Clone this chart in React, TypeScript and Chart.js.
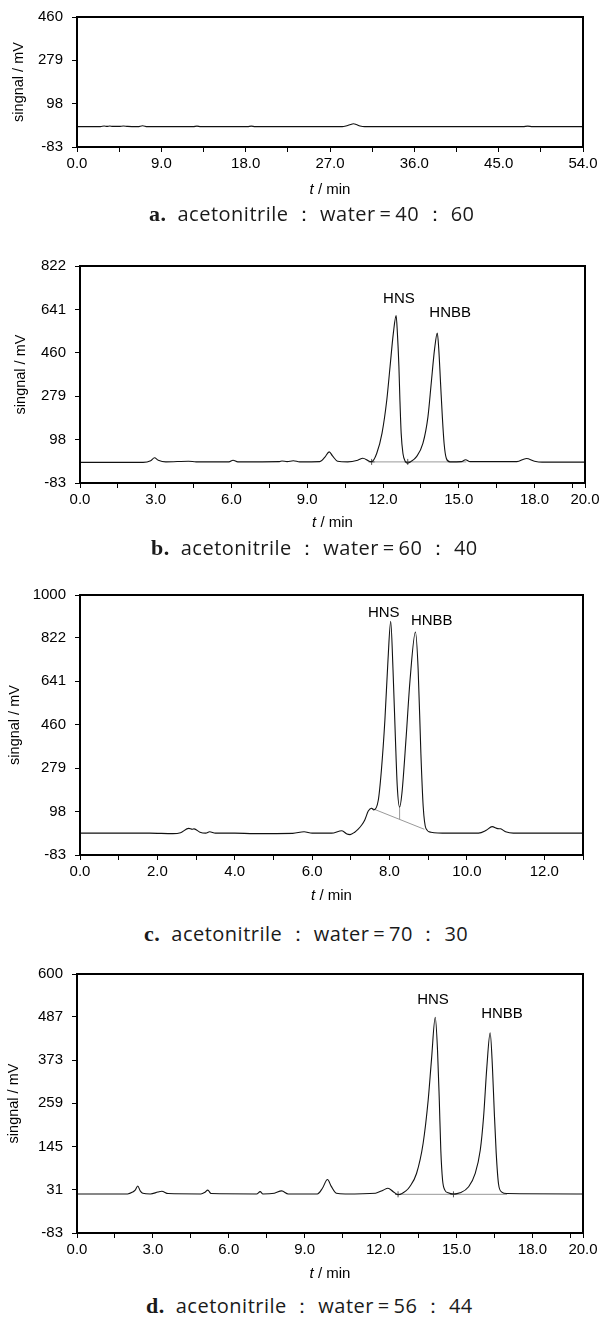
import React, { useEffect, useRef } from "react";
import { Chart, registerables } from "chart.js";

Chart.register(...registerables);

const FONT = "'Liberation Sans', Arial, sans-serif";
const CAPTION_FONT = "'Open Sans', 'Noto Sans', sans-serif";

// ---------------- Panel a : acetonitrile : water = 40 : 60 ----------------
const aTime = [0, 2.5, 2.9, 3.2, 3.5, 3.8, 4.5, 4.95, 5.4, 6.5, 7.0, 7.5, 10, 12.4, 12.8, 13.2, 16, 18.2, 18.6, 19.0, 24, 28.3, 28.8, 29.2, 29.5, 29.8, 30.2, 30.7, 35, 40, 47.6, 48.1, 48.6, 54];
const aSignal = [2, 2, 5, 3, 5, 3, 3, 5, 3, 2, 6, 2, 2, 2, 4, 2, 2, 2, 4, 2, 2, 2, 6, 11, 14, 11, 5, 2, 2, 2, 2, 4, 2, 2];
const aYTicks = [-83, 98, 279, 460];
const aXTicks = [0, 4.5, 9, 13.5, 18, 22.5, 27, 31.5, 36, 40.5, 45, 49.5, 54];
const aXLabeled = [0, 9, 18, 27, 36, 45, 54];
const aPeakNames: string[] = [];
const aPeakTime: number[] = [];
const aPeakSignal: number[] = [];

// ---------------- Panel b : acetonitrile : water = 60 : 40 ----------------
const bTime = [0, 2.5, 2.8, 2.95, 3.1, 3.4, 4.3, 4.6, 5.9, 6.06, 6.25, 7.9, 8.0, 8.2, 8.45, 8.7, 9.5, 9.7, 9.87, 10.0, 10.2, 10.6, 11.0, 11.2, 11.45, 11.55, 11.75, 11.96, 12.15, 12.28, 12.41, 12.52, 12.57, 12.63, 12.67, 12.72, 12.79, 12.88, 12.98, 13.1, 13.32, 13.58, 13.78, 13.91, 14.04, 14.15, 14.21, 14.28, 14.35, 14.42, 14.51, 14.65, 15.1, 15.27, 15.45, 17.3, 17.68, 18.0, 18.3, 20];
const bSignal = [3, 3, 10, 22, 12, 5, 8, 5, 5, 12, 5, 6, 9, 6, 10, 5, 6, 25, 47, 30, 8, 5, 12, 20, 8, 6, 40, 124, 263, 403, 542, 615, 542, 403, 263, 124, 40, 8, 0, 6, 26, 82, 193, 333, 473, 542, 473, 333, 193, 82, 19, 5, 6, 14, 6, 6, 19, 8, 4, 4];
const bBaseTime = [11.55, 12.98, 15.3];
const bBaseSignal = [5, 5, 5];
const bBaseMarks = [3, 3, 0];
const bYTicks = [-83, 98, 279, 460, 641, 822];
const bXTicks = [0, 1.5, 3, 4.5, 6, 7.5, 9, 10.5, 12, 13.5, 15, 16.5, 18, 19.5, 20];
const bXLabeled = [0, 3, 6, 9, 12, 15, 18, 20];
const bPeakNames = ["HNS", "HNBB"];
const bPeakTime = [12.63, 14.66];
const bPeakSignal = [683, 625];

// ---------------- Panel c : acetonitrile : water = 70 : 30 ----------------
const cTime = [0, 1.8, 2.4, 2.6, 2.81, 2.9, 2.95, 3.1, 3.25, 3.35, 3.5, 4.0, 4.5, 5.5, 5.79, 6.0, 6.5, 6.77, 6.9, 6.98, 7.1, 7.19, 7.28, 7.36, 7.45, 7.535, 7.595, 7.71, 7.79, 7.88, 7.96, 8.03, 8.09, 8.15, 8.2, 8.26, 8.32, 8.43, 8.53, 8.67, 8.74, 8.81, 8.87, 8.94, 9.07, 9.5, 10.3, 10.5, 10.65, 10.8, 10.87, 11.0, 11.2, 13];
const cSignal = [8, 8, 6, 10, 28, 24, 26, 12, 8, 14, 8, 8, 6, 7, 14, 8, 8, 18, 4, 2, 12, 25, 42, 63, 100, 112, 105, 146, 271, 479, 729, 890, 688, 410, 202, 116, 174, 410, 646, 846, 688, 341, 119, 28, 12, 8, 8, 20, 35, 27, 26, 14, 8, 8];
const cBaseTime = [7.535, 8.9];
const cBaseSignal = [112, 24];
const cDropTime = [8.26, 8.26];
const cDropSignal = [65, 116];
const cYTicks = [-83, 98, 279, 460, 641, 822, 1000];
const cXTicks = [0, 1, 2, 3, 4, 5, 6, 7, 8, 9, 10, 11, 12, 13];
const cXLabeled = [0, 2, 4, 6, 8, 10, 12];
const cPeakNames = ["HNS", "HNBB"];
const cPeakTime = [7.85, 9.09];
const cPeakSignal = [926, 893];

// ---------------- Panel d : acetonitrile : water = 56 : 44 ----------------
const dTime = [0, 2.0, 2.2, 2.3, 2.4, 2.5, 2.6, 2.9, 3.2, 3.35, 3.6, 4.9, 5.05, 5.17, 5.3, 7.1, 7.24, 7.35, 7.8, 8.09, 8.35, 9.5, 9.7, 9.9, 10.05, 10.25, 10.6, 11.8, 12.1, 12.29, 12.5, 12.69, 13.0, 13.15, 13.42, 13.68, 13.88, 14.01, 14.16, 14.25, 14.32, 14.38, 14.45, 14.54, 14.67, 14.88, 15.14, 15.48, 15.74, 15.94, 16.07, 16.2, 16.33, 16.42, 16.49, 16.57, 16.66, 16.79, 16.99, 20];
const dSignal = [20, 20, 25, 30, 41, 28, 22, 20, 25, 27, 21, 20, 24, 30, 21, 20, 26, 20, 22, 28, 20, 20, 35, 58, 40, 22, 20, 22, 30, 35, 26, 18, 28, 39, 74, 153, 267, 373, 486, 399, 267, 135, 56, 30, 23, 20, 23, 39, 74, 136, 223, 355, 445, 355, 241, 127, 47, 25, 21, 20];
const dBaseTime = [12.69, 14.88, 17.0];
const dBaseSignal = [19, 19, 19];
const dBaseMarks = [3, 3, 0];
const dYTicks = [-83, 31, 145, 259, 373, 487, 600];
const dXTicks = [0, 1.5, 3, 4.5, 6, 7.5, 9, 10.5, 12, 13.5, 15, 16.5, 18, 19.5, 20];
const dXLabeled = [0, 3, 6, 9, 12, 15, 18, 20];
const dPeakNames = ["HNS", "HNBB"];
const dPeakTime = [14.07, 16.8];
const dPeakSignal = [531, 494];

// captions
const captionLetters = ["a.", "b.", "c.", "d."];
const captionSolvent = "acetonitrile";
const captionRatioA = ["40", "60", "70", "56"];
const captionRatioB = ["60", "40", "30", "44"];

type Guide = { time: number[]; signal: number[]; marks?: number[] };
type Layout = {
  canvasTop: number;
  canvasH: number;
  plotTop: number;
  plotBottom: number;
  plotLeft: number;
  plotRight: number;
  xTitleY: number;
  yTitleX: number;
  captionY: number;
  captionLeft: number;
};
type PanelDef = {
  time: number[];
  signal: number[];
  guides: Guide[];
  yTicks: number[];
  xTicks: number[];
  xLabeled: number[];
  peakNames: string[];
  peakTime: number[];
  peakSignal: number[];
  layout: Layout;
};

const panels: PanelDef[] = [
  {
    time: aTime, signal: aSignal, guides: [],
    yTicks: aYTicks, xTicks: aXTicks, xLabeled: aXLabeled,
    peakNames: aPeakNames, peakTime: aPeakTime, peakSignal: aPeakSignal,
    layout: { canvasTop: 0, canvasH: 205, plotTop: 17, plotBottom: 147, plotLeft: 77, plotRight: 583, xTitleY: 190, yTitleX: 19, captionY: 214, captionLeft: 149 },
  },
  {
    time: bTime, signal: bSignal,
    guides: [{ time: bBaseTime, signal: bBaseSignal, marks: bBaseMarks }],
    yTicks: bYTicks, xTicks: bXTicks, xLabeled: bXLabeled,
    peakNames: bPeakNames, peakTime: bPeakTime, peakSignal: bPeakSignal,
    layout: { canvasTop: 240, canvasH: 295, plotTop: 266, plotBottom: 483, plotLeft: 80, plotRight: 585, xTitleY: 523, yTitleX: 21, captionY: 548, captionLeft: 151 },
  },
  {
    time: cTime, signal: cSignal,
    guides: [
      { time: cBaseTime, signal: cBaseSignal },
      { time: cDropTime, signal: cDropSignal },
    ],
    yTicks: cYTicks, xTicks: cXTicks, xLabeled: cXLabeled,
    peakNames: cPeakNames, peakTime: cPeakTime, peakSignal: cPeakSignal,
    layout: { canvasTop: 570, canvasH: 340, plotTop: 595, plotBottom: 855, plotLeft: 80, plotRight: 583, xTitleY: 896, yTitleX: 15, captionY: 934, captionLeft: 144 },
  },
  {
    time: dTime, signal: dSignal,
    guides: [{ time: dBaseTime, signal: dBaseSignal, marks: dBaseMarks }],
    yTicks: dYTicks, xTicks: dXTicks, xLabeled: dXLabeled,
    peakNames: dPeakNames, peakTime: dPeakTime, peakSignal: dPeakSignal,
    layout: { canvasTop: 950, canvasH: 340, plotTop: 974, plotBottom: 1233, plotLeft: 77, plotRight: 583, xTitleY: 1274, yTitleX: 14, captionY: 1306, captionLeft: 146 },
  },
];

function ChartPanel({ p }: { p: PanelDef }) {
  const ref = useRef<HTMLCanvasElement>(null);
  const L = p.layout;

  useEffect(() => {
    const canvas = ref.current;
    if (!canvas) return;

    const datasets: any[] = [
      {
        data: p.time.map((t, i) => ({ x: t, y: p.signal[i] })),
        borderColor: "#111",
        borderWidth: 1.1,
        pointRadius: 0,
        cubicInterpolationMode: "monotone",
        fill: false,
        order: 0,
      },
    ];
    p.guides.forEach((g) => {
      datasets.push({
        data: g.time.map((t, i) => ({ x: t, y: g.signal[i] })),
        borderColor: "#999",
        borderWidth: 1,
        pointRadius: g.marks ? g.marks : 0,
        pointStyle: "cross",
        pointBorderColor: "#555",
        pointBorderWidth: 1,
        tension: 0,
        fill: false,
        order: 1,
      });
    });

    const decor = {
      id: "decor",
      afterDraw(chart: any) {
        const { ctx, chartArea: a, scales } = chart;
        ctx.save();
        ctx.strokeStyle = "#000";
        ctx.lineWidth = 2;
        ctx.strokeRect(a.left, a.top, a.right - a.left, a.bottom - a.top);

        ctx.fillStyle = "#000";
        ctx.font = `15px ${FONT}`;
        ctx.textAlign = "center";
        ctx.textBaseline = "middle";
        p.peakNames.forEach((n, i) => {
          ctx.fillText(
            n,
            scales.x.getPixelForValue(p.peakTime[i]),
            scales.y.getPixelForValue(p.peakSignal[i])
          );
        });

        const cx = (a.left + a.right) / 2;
        const cy = L.xTitleY - L.canvasTop;
        ctx.font = `italic 15px ${FONT}`;
        const w1 = ctx.measureText("t").width;
        ctx.font = `15px ${FONT}`;
        const w2 = ctx.measureText(" / min").width;
        const x0 = cx - (w1 + w2) / 2;
        ctx.textAlign = "left";
        ctx.font = `italic 15px ${FONT}`;
        ctx.fillText("t", x0, cy);
        ctx.font = `15px ${FONT}`;
        ctx.fillText(" / min", x0 + w1, cy);
        ctx.restore();
      },
    };

    const tickFont = { family: FONT, size: 15 };
    const chart = new Chart(canvas, {
      type: "line",
      data: { datasets },
      options: {
        responsive: false,
        animation: false,
        devicePixelRatio: 1,
        events: [],
        layout: {
          padding: { left: 0, top: L.plotTop - L.canvasTop, right: 599 - L.plotRight, bottom: 0 },
        },
        plugins: { legend: { display: false }, tooltip: { enabled: false }, title: { display: false } },
        scales: {
          x: {
            type: "linear",
            min: p.xTicks[0],
            max: p.xTicks[p.xTicks.length - 1],
            afterBuildTicks: (s: any) => {
              s.ticks = p.xTicks.map((v) => ({ value: v }));
            },
            afterFit: (s: any) => {
              s.height = L.canvasTop + L.canvasH - L.plotBottom;
              s.paddingLeft = 0;
              s.paddingRight = 0;
            },
            grid: { drawOnChartArea: false, drawTicks: true, tickLength: 5, color: "#000", lineWidth: 1 },
            border: { display: false },
            ticks: {
              autoSkip: false,
              maxRotation: 0,
              minRotation: 0,
              padding: 3,
              color: "#000",
              font: tickFont,
              callback: (v: any) => (p.xLabeled.includes(Number(v)) ? Number(v).toFixed(1) : ""),
            },
          },
          y: {
            type: "linear",
            min: p.yTicks[0],
            max: p.yTicks[p.yTicks.length - 1],
            afterBuildTicks: (s: any) => {
              s.ticks = p.yTicks.map((v) => ({ value: v }));
            },
            afterFit: (s: any) => {
              s.width = L.plotLeft;
              s.paddingTop = 0;
              s.paddingBottom = 0;
            },
            grid: { drawOnChartArea: false, drawTicks: true, tickLength: 5, color: "#000", lineWidth: 1 },
            border: { display: false },
            ticks: {
              autoSkip: false,
              padding: 9,
              color: "#000",
              font: tickFont,
              callback: (v: any) => String(v),
            },
            title: {
              display: true,
              text: "singnal / mV",
              color: "#000",
              font: { family: FONT, size: 14.5 },
              padding: { top: L.yTitleX - 8.7, bottom: 0 },
            },
          },
        },
      } as any,
      plugins: [decor],
    });
    return () => chart.destroy();
  }, []);

  return (
    <canvas
      ref={ref}
      width={599}
      height={L.canvasH}
      style={{ position: "absolute", left: 0, top: L.canvasTop, width: 599, height: L.canvasH }}
    />
  );
}

export default function App() {
  return (
    <div style={{ position: "absolute", left: 0, top: 0, width: 599, height: 1317, background: "#fff", overflow: "hidden" }}>
      {panels.map((p, i) => (
        <ChartPanel key={i} p={p} />
      ))}
      {panels.map((p, i) => (
        <div
          key={"cap" + i}
          style={{
            position: "absolute",
            left: p.layout.captionLeft,
            top: p.layout.captionY - 14,
            height: 28,
            lineHeight: "28px",
            fontFamily: CAPTION_FONT,
            fontSize: 20,
            letterSpacing: "0.5px",
            color: "#1a1a1a",
            whiteSpace: "nowrap",
          }}
        >
          <span style={{ fontFamily: "'Liberation Serif', serif", fontWeight: "bold", fontSize: 22, marginRight: 11 }}>
            {captionLetters[i]}
          </span>
          {captionSolvent}
          {"\u2005\uFF1A\u2005"}
          {"water\u2009=\u2009"}
          {captionRatioA[i]}
          {"\u2005\uFF1A\u2005"}
          {captionRatioB[i]}
        </div>
      ))}
    </div>
  );
}
